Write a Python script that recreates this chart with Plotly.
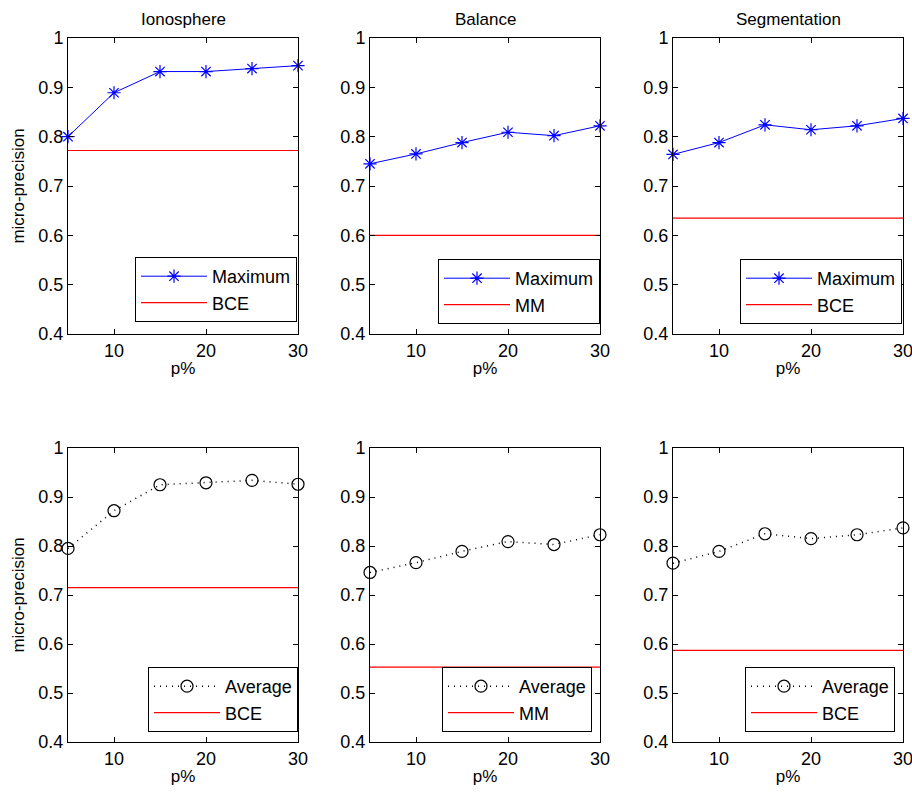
import plotly.graph_objects as go

# ---------------- data ----------------
p_percent = [5, 10, 15, 20, 25, 30]
datasets = ["Ionosphere", "Balance", "Segmentation"]
baseline_names = ["BCE", "MM", "BCE"]

max_ionosphere = [0.800, 0.889, 0.932, 0.932, 0.938, 0.944]
max_balance = [0.745, 0.765, 0.788, 0.809, 0.802, 0.822]
max_segmentation = [0.764, 0.788, 0.824, 0.814, 0.822, 0.837]
max_baselines = [0.772, 0.600, 0.635]

avg_ionosphere = [0.795, 0.872, 0.925, 0.929, 0.934, 0.926]
avg_balance = [0.746, 0.766, 0.789, 0.809, 0.803, 0.823]
avg_segmentation = [0.765, 0.789, 0.825, 0.815, 0.823, 0.837]
avg_baselines = [0.715, 0.553, 0.587]

y_ticks = [0.4, 0.5, 0.6, 0.7, 0.8, 0.9, 1.0]
y_ticktext = ["0.4", "0.5", "0.6", "0.7", "0.8", "0.9", "1"]
x_ticks = [10, 20, 30]

# ---------------- layout geometry (pixels) ----------------
W, H = 912, 796
col_px = [(68, 298), (370, 600), (673, 903)]
row_px = [(38, 334), (448, 742)]
legend_px = [
    [(297, 322), (600, 324), (902, 324)],
    [(298, 732), (592, 732), (895, 732)],
]
FONT = "Liberation Sans, Arial, Helvetica, sans-serif"

fig = go.Figure()
top_series = [max_ionosphere, max_balance, max_segmentation]
bot_series = [avg_ionosphere, avg_balance, avg_segmentation]

annotations = []
for r in range(2):
    for c in range(3):
        idx = r * 3 + c + 1
        xa = "x" if idx == 1 else f"x{idx}"
        ya = "y" if idx == 1 else f"y{idx}"
        lg = "legend" if idx == 1 else f"legend{idx}"
        if r == 0:
            fig.add_trace(go.Scatter(
                x=p_percent, y=top_series[c], mode="lines+markers", name="Maximum",
                line=dict(color="#0000ff", width=1),
                marker=dict(symbol="asterisk-open", size=11, color="#0000ff",
                            line=dict(color="#0000ff", width=1.2)),
                xaxis=xa, yaxis=ya, legend=lg, cliponaxis=False))
            base = max_baselines[c]
        else:
            fig.add_trace(go.Scatter(
                x=p_percent, y=bot_series[c], mode="lines+markers", name="Average",
                line=dict(color="black", width=1.5, dash="1px,5px"),
                marker=dict(symbol="circle-open", size=12, color="black",
                            line=dict(color="black", width=1.2)),
                xaxis=xa, yaxis=ya, legend=lg, cliponaxis=False))
            base = avg_baselines[c]
        fig.add_trace(go.Scatter(
            x=[p_percent[0], p_percent[-1]], y=[base, base], mode="lines",
            name=baseline_names[c], line=dict(color="#ff0000", width=1.2),
            xaxis=xa, yaxis=ya, legend=lg))

        x0, x1 = col_px[c]
        y0, y1 = row_px[r]
        axis_common = dict(
            showline=True, linecolor="black", linewidth=1, mirror="ticks",
            ticks="inside", ticklen=5, tickcolor="black", showgrid=False,
            zeroline=False, automargin=False, ticklabeloverflow="allow",
            tickfont=dict(family=FONT, size=18, color="black"),
        )
        fig.layout[("xaxis" if idx == 1 else f"xaxis{idx}")] = dict(
            domain=[x0 / W, x1 / W], anchor=ya, range=[5, 30],
            tickvals=x_ticks, ticktext=[str(t) for t in x_ticks],
            title=dict(text="p%", font=dict(family=FONT, size=17, color="black"), standoff=2),
            **axis_common)
        fig.layout[("yaxis" if idx == 1 else f"yaxis{idx}")] = dict(
            domain=[1 - y1 / H, 1 - y0 / H], anchor=xa, range=[0.4, 1.0],
            tickvals=y_ticks, ticktext=y_ticktext,
            title=dict(text="micro-precision" if c == 0 else "",
                       font=dict(family=FONT, size=17, color="black"), standoff=9),
            **axis_common)
        lx, ly = legend_px[r][c]
        fig.layout[lg] = dict(
            x=lx / W, y=1 - ly / H, xanchor="right", yanchor="bottom",
            xref="paper", yref="paper",
            bgcolor="white", bordercolor="black", borderwidth=1,
            font=dict(family=FONT, size=18, color="black"),
            itemwidth=66, tracegroupgap=0)
        if r == 0:
            annotations.append(dict(
                text=datasets[c], x=(x0 + x1) / 2 / W, y=1 - 19 / H,
                xref="paper", yref="paper", showarrow=False,
                xanchor="center", yanchor="middle",
                font=dict(family=FONT, size=17, color="black")))

fig.update_layout(
    width=W, height=H, margin=dict(l=0, r=0, t=0, b=0, autoexpand=False),
    paper_bgcolor="white", plot_bgcolor="white",
    annotations=annotations, showlegend=True,
)
fig.write_html("out.html", config={"displayModeBar": False},
               post_script="document.body.style.margin='0';document.body.style.overflow='hidden';")
